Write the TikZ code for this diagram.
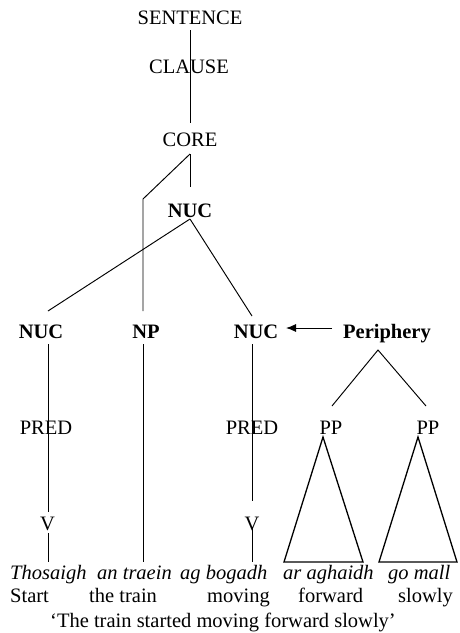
\documentclass[tikz,border=0pt]{standalone}
\usepackage{fontspec}
\setmainfont{Liberation Serif}
\usetikzlibrary{arrows.meta}
\begin{document}
\begin{tikzpicture}[x=1pt,y=-1pt,
  lab/.style={font=\fontsize{20.5}{24}\selectfont, inner sep=0pt, anchor=base},
  bflab/.style={lab, font=\fontsize{20.5}{24}\selectfont\bfseries},
  itlab/.style={lab, font=\fontsize{20.5}{24}\selectfont\itshape, anchor=base west},
  wlab/.style={lab, anchor=base west},
  edge/.style={line width=0.95pt},
  tri/.style={line width=1.3pt, line join=miter}]
\useasboundingbox (0,0) rectangle (459,633);
% labels
\node[lab] (S) at (190,24) {SENTENCE};
\node[lab] (CL) at (189,73) {CLAUSE};
\node[lab] (CO) at (190,146) {CORE};
\node[bflab] (NUC) at (190,217) {NUC};
\node[bflab] (NUCa) at (41,338) {NUC};
\node[bflab] (NP) at (146,338) {NP};
\node[bflab] (NUCb) at (256,338) {NUC};
\node[bflab] (PER) at (387,338) {Periphery};
\node[lab] (PREDa) at (46,434) {PRED};
\node[lab] (PREDb) at (252,434) {PRED};
\node[lab] (PPa) at (331,434) {PP};
\node[lab] (PPb) at (428,434) {PP};
\node[lab] (Va) at (47.5,530) {V};
\node[lab] (Vb) at (252,530) {V};
% Irish words
\node[itlab] (w1) at (10,579) {Thosaigh};
\node[itlab] (w2) at (97,579) {an traein};
\node[itlab] (w3) at (180,579) {ag bogadh};
\node[itlab] (w4) at (283,579) {ar aghaidh};
\node[itlab] (w5) at (388,579) {go mall};
% glosses
\node[wlab] (g1) at (10,602) {Start};
\node[wlab] (g2) at (89,602) {the train};
\node[wlab] (g3) at (207,602) {moving};
\node[wlab] (g4) at (298,602) {forward};
\node[wlab] (g5) at (398,602) {slowly};
\node[lab] (tr) at (223,627) {`The train started moving forward slowly'};
% coordinates
\coordinate (sB) at (190,30);
\coordinate (coT) at (190,123);
\coordinate (coB) at (190,154);
\coordinate (nucT) at (190,187);
\coordinate (npBend) at (143,199);
\coordinate (npT) at (143,311);
\coordinate (nucB) at (190,219);
\coordinate (nucaT) at (48,311);
\coordinate (nucbT) at (252,316);
\coordinate (nucaB) at (48,344);
\coordinate (vaT) at (48,512);
\coordinate (vaB) at (48,533);
\coordinate (w1T) at (48,562);
\coordinate (npB) at (143,344);
\coordinate (w2T) at (143,562);
\coordinate (nucbB) at (252,344);
\coordinate (vbT) at (252,501);
\coordinate (vbB) at (252,527);
\coordinate (w3T) at (252,562);
\coordinate (perW) at (332,328);
\coordinate (nucbE) at (286,328);
\coordinate (perB) at (378,350);
\coordinate (ppaT) at (332,406);
\coordinate (ppbT) at (426,406);
\coordinate (ta) at (323,437);
\coordinate (taL) at (284,562);
\coordinate (taR) at (363,562);
\coordinate (tb) at (418,437);
\coordinate (tbL) at (379,562);
\coordinate (tbR) at (457,562);
% connectors
\draw[edge] (sB) -- (coT);
\draw[edge] (coB) -- (nucT);
\draw[edge] (coB) -- (npBend) -- (npT);
\draw[edge] (nucB) -- (nucaT);
\draw[edge] (nucB) -- (nucbT);
\draw[edge] (nucaB) -- (vaT);
\draw[edge] (vaB) -- (w1T);
\draw[edge] (npB) -- (w2T);
\draw[edge] (nucbB) -- (vbT);
\draw[edge] (vbB) -- (w3T);
\draw[edge, -{Latex[length=10pt,width=8pt]}] (perW) -- (nucbE);
\draw[edge] (ppaT) -- (perB) -- (ppbT);
\draw[tri] (ta) -- (taL) -- (taR) -- cycle;
\draw[tri] (tb) -- (tbL) -- (tbR) -- cycle;
\end{tikzpicture}
\end{document}
